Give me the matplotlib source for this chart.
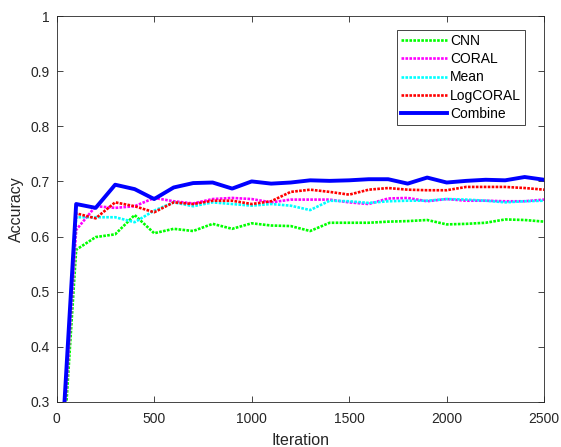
import matplotlib
matplotlib.use("Agg")
import matplotlib.pyplot as plt

plt.rcParams["font.family"] = ["Liberation Sans", "DejaVu Sans"]

# iterations (first point clipped by the 0.3 lower limit)
iters = [0, 100, 200, 300, 400, 500, 600, 700, 800, 900, 1000, 1100, 1200,
         1300, 1400, 1500, 1600, 1700, 1800, 1900, 2000, 2100, 2200, 2300, 2400, 2500]

cnn = [0.02, 0.576, 0.599, 0.604, 0.639, 0.606, 0.614, 0.610, 0.623, 0.614, 0.624, 0.620, 0.619,
       0.610, 0.625, 0.625, 0.625, 0.627, 0.628, 0.630, 0.622, 0.623, 0.625, 0.631, 0.630, 0.627]
coral = [0.04, 0.612, 0.655, 0.652, 0.655, 0.670, 0.664, 0.660, 0.668, 0.670, 0.668, 0.662, 0.667,
         0.667, 0.667, 0.662, 0.659, 0.669, 0.670, 0.664, 0.668, 0.665, 0.665, 0.664, 0.664, 0.667]
mean = [0.05, 0.635, 0.635, 0.635, 0.626, 0.647, 0.662, 0.655, 0.662, 0.659, 0.656, 0.659, 0.656,
        0.648, 0.665, 0.664, 0.661, 0.664, 0.665, 0.665, 0.668, 0.667, 0.665, 0.662, 0.664, 0.665]
logcoral = [0.05, 0.642, 0.633, 0.662, 0.655, 0.644, 0.662, 0.659, 0.665, 0.665, 0.659, 0.664, 0.681,
            0.685, 0.681, 0.676, 0.685, 0.688, 0.685, 0.684, 0.684, 0.690, 0.690, 0.690, 0.688, 0.685]
combine = [0.06, 0.659, 0.652, 0.694, 0.686, 0.668, 0.689, 0.697, 0.698, 0.687, 0.700, 0.696, 0.698,
           0.702, 0.701, 0.702, 0.704, 0.704, 0.696, 0.707, 0.698, 0.701, 0.703, 0.702, 0.708, 0.703]

axis_gray = "#262626"
dot = (0, (1.0, 0.5))

fig = plt.figure(figsize=(5.61, 4.47), dpi=100)
ax = fig.add_axes([0.101, 0.101, 0.869, 0.863])

ax.plot(iters, cnn, color="#00ff00", lw=1.9, ls=dot, label="CNN")
ax.plot(iters, coral, color="#ff00ff", lw=1.9, ls=dot, label="CORAL")
ax.plot(iters, mean, color="#00ffff", lw=1.9, ls=dot, label="Mean")
ax.plot(iters, logcoral, color="#ff0000", lw=1.9, ls=dot, label="LogCORAL")
ax.plot(iters, combine, color="#0000ff", lw=2.8, ls="-", label="Combine")

ax.set_xlim(0, 2500)
ax.set_ylim(0.3, 1.0)
ax.set_xticks([0, 500, 1000, 1500, 2000, 2500])
ax.set_yticks([0.3, 0.4, 0.5, 0.6, 0.7, 0.8, 0.9, 1.0])
ax.set_yticklabels(["0.3", "0.4", "0.5", "0.6", "0.7", "0.8", "0.9", "1"])

for s in ax.spines.values():
    s.set_color(axis_gray)
    s.set_linewidth(0.6)
ax.tick_params(direction="in", top=True, right=True, length=4, width=0.6,
               colors=axis_gray, labelsize=10)
ax.tick_params(axis="x", pad=7)
ax.tick_params(axis="y", pad=5)

ax.set_xlabel("Iteration", fontsize=11.5, color=axis_gray, labelpad=5)
ax.set_ylabel("Accuracy", fontsize=11.5, color=axis_gray, labelpad=5)

leg = ax.legend(loc="upper right", bbox_to_anchor=(0.961, 0.964), fontsize=10,
                handlelength=3.3, handletextpad=0.2, labelspacing=0.3,
                borderpad=0.3, borderaxespad=0, fancybox=False, framealpha=1,
                edgecolor=axis_gray)
leg.get_frame().set_linewidth(0.6)

fig.savefig("out.png", dpi=100)
